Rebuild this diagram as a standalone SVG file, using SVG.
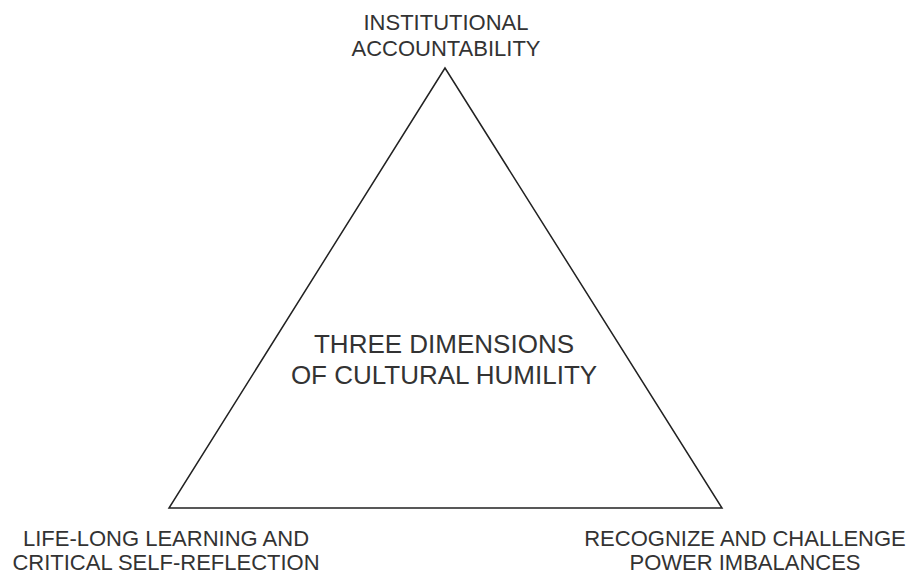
<svg xmlns="http://www.w3.org/2000/svg" width="913" height="575" viewBox="0 0 913 575">
<style>
.lbl{font-family:"Liberation Sans",Arial,sans-serif;font-size:22px;fill:#333;text-anchor:middle}
.ctr{font-family:"Liberation Sans",Arial,sans-serif;font-size:26px;fill:#333;text-anchor:middle}
</style>
<rect width="913" height="575" fill="#fff"/>
<g id="triangle">
<polygon points="445,68 169,508 722,508" fill="#fff" stroke="#222" stroke-width="1.5"/>
<text class="ctr" x="444" y="353">THREE DIMENSIONS</text>
<text class="ctr" x="444" y="384">OF CULTURAL HUMILITY</text>
</g>
<g id="top-label">
<text class="lbl" x="446" y="30">INSTITUTIONAL</text>
<text class="lbl" x="446" y="56">ACCOUNTABILITY</text>
</g>
<g id="left-label">
<text class="lbl" x="166" y="546">LIFE-LONG LEARNING AND</text>
<text class="lbl" x="166" y="570">CRITICAL SELF-REFLECTION</text>
</g>
<g id="right-label">
<text class="lbl" x="745" y="546">RECOGNIZE AND CHALLENGE</text>
<text class="lbl" x="745" y="570">POWER IMBALANCES</text>
</g>
<g id="connectors"></g>
</svg>
